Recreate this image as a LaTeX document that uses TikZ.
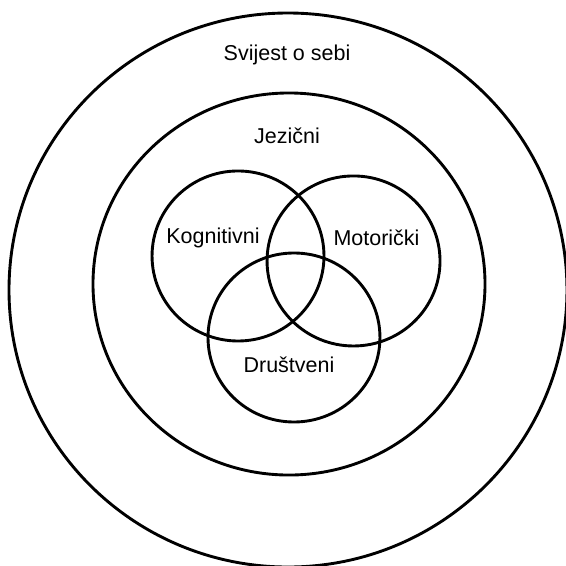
\documentclass[tikz,border=0pt]{standalone}
\usepackage{fontspec}
\setmainfont{Liberation Sans}
\usepackage{xcolor}
\usepackage{tikz}
\definecolor{ringBlack}{HTML}{000000}
\tikzset{
  ring/.style={draw=ringBlack, line width=1.45pt},
  ringlabel/.style={font=\fontsize{10.8}{12}\selectfont, text=ringBlack, inner sep=1pt},
}

\begin{document}
\begin{tikzpicture}[x=1cm,y=1cm]
  \useasboundingbox (0,0) rectangle (10,10);
  % --- nested rings ---
  \draw[ring] (5.088,4.876) ellipse [x radius=4.929, y radius=4.894];
  \draw[ring] (5.106,4.982) ellipse [x radius=3.463, y radius=3.375];
  % --- three overlapping circles ---
  \draw[ring] (4.205,5.477) ellipse [x radius=1.519, y radius=1.502];
  \draw[ring] (6.246,5.389) ellipse [x radius=1.528, y radius=1.502];
  \draw[ring] (5.194,4.037) ellipse [x radius=1.519, y radius=1.493];

  \node[ringlabel] (self) at (5.071,9.028) {Svijest o sebi};
  \node[ringlabel] (lang) at (5.071,7.597) {Jezični};
  \node[ringlabel] (cog) at (3.763,5.795) {Kognitivni};
  \node[ringlabel] (motor) at (6.652,5.795) {Motorički};
  \node[ringlabel] (social) at (5.106,3.551) {Društveni};
\end{tikzpicture}
\end{document}
